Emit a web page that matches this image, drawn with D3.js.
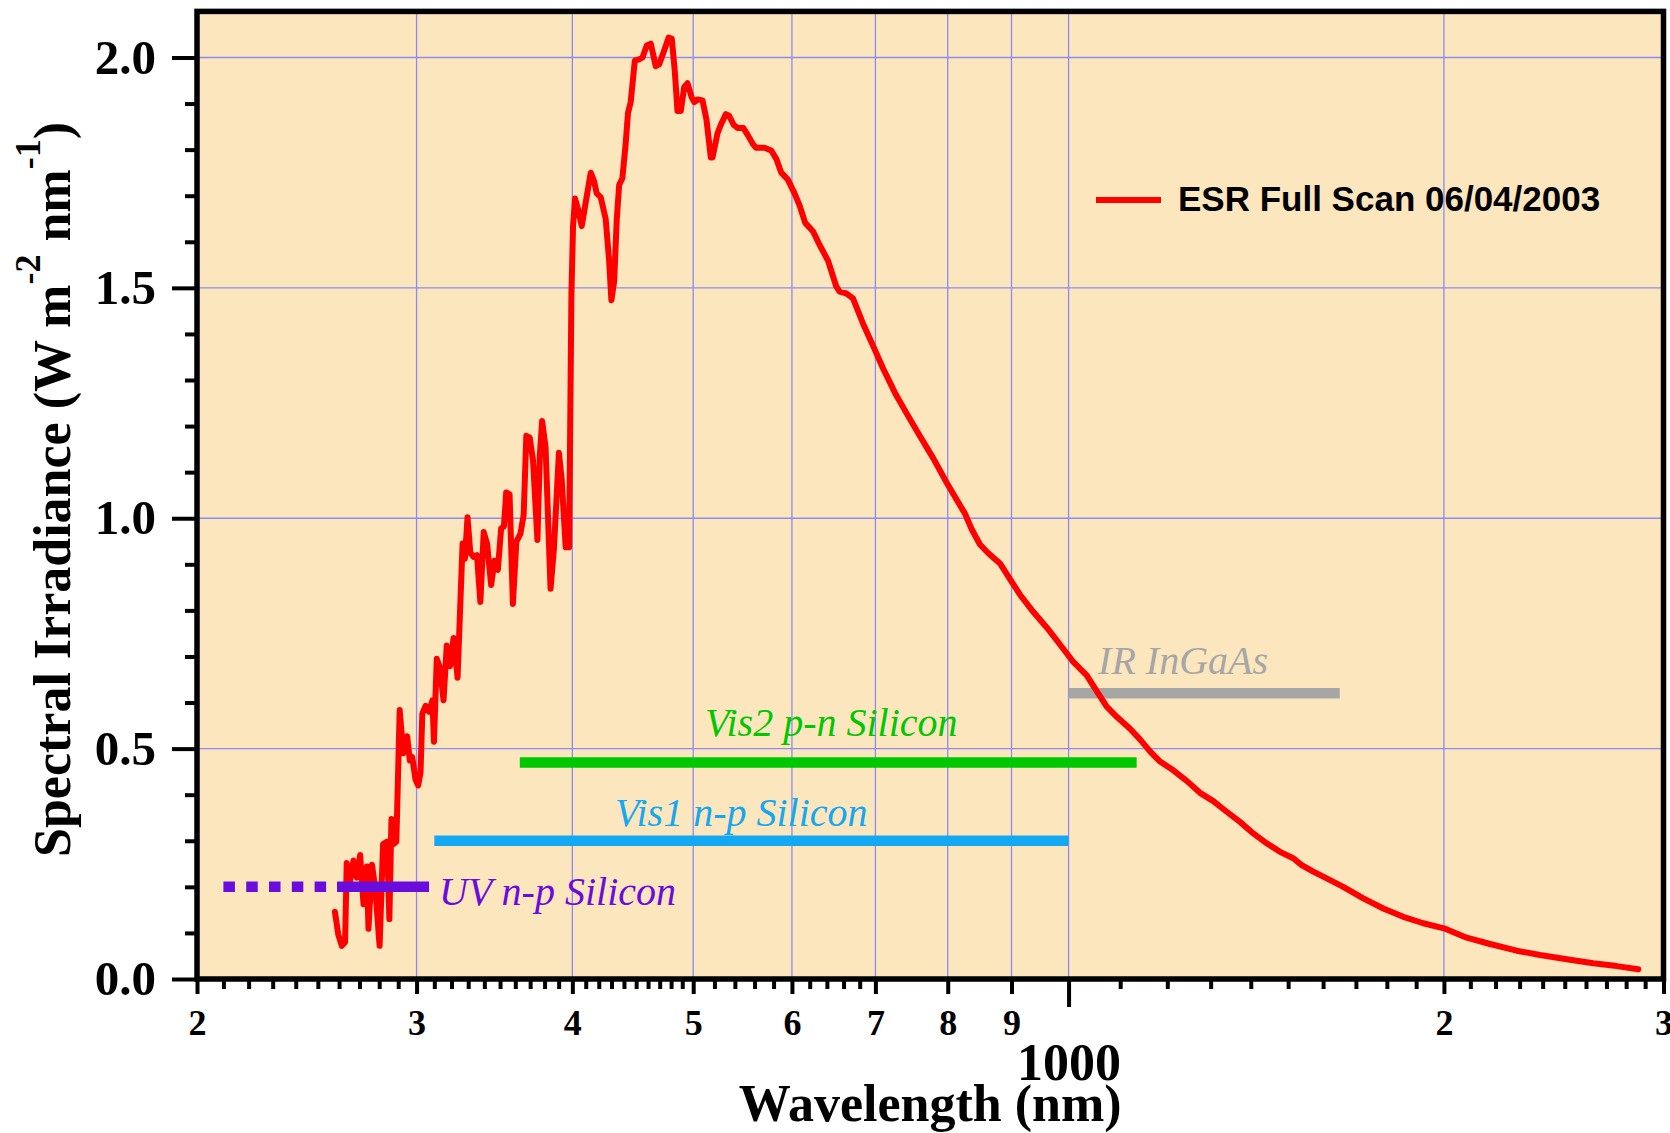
<!DOCTYPE html>
<html>
<head>
<meta charset="utf-8">
<script src="https://cdn.jsdelivr.net/npm/d3@7"></script>
<style>
  html, body { margin: 0; padding: 0; background: #ffffff; }
  svg { display: block; }
</style>
</head>
<body>
<svg id="chart" width="1670" height="1133"></svg>
<script>
// ESR full-scan solar spectral irradiance (W m^-2 nm^-1) vs wavelength (nm)
const wavelengthNm = [
  258.0, 259.6, 261.3, 262.9, 263.7, 265.3, 267.0, 268.7, 270.3, 272.0,
  273.7, 274.5, 276.3, 278.0, 280.2, 282.0, 284.1, 285.3, 286.4, 287.6,
  289.0, 290.8, 292.7, 294.8, 296.3, 297.6, 299.4, 300.9, 302.2, 303.2,
  305.1, 307.0, 308.9, 309.8, 311.4, 313.3, 315.3, 317.2, 319.2, 321.2,
  323.6, 326.6, 328.0, 329.6, 331.3, 333.3, 335.4, 337.5, 339.6, 341.7,
  344.3, 346.4, 348.6, 350.7, 352.5, 354.0, 356.2, 358.4, 360.7, 363.4,
  365.6, 367.4, 369.7, 372.0, 375.0, 376.7, 378.3, 380.7, 384.2, 386.6,
  390.2, 392.2, 395.1, 397.6, 399.3, 400.5, 402.0, 404.2, 407.0, 410.0,
  413.8, 416.4, 418.4, 421.5, 425.4, 428.1, 429.9, 432.1, 434.2, 436.1,
  438.7, 441.4, 443.3, 445.5, 448.9, 452.5, 455.3, 458.9, 462.3, 466.6,
  469.5, 473.3, 477.8, 480.6, 483.3, 485.7, 488.7, 491.8, 494.8, 498.5,
  501.0, 504.0, 508.7, 512.4, 516.5, 518.2, 523.0, 526.2, 531.1, 534.4,
  538.7, 542.7, 548.5, 552.9, 558.0, 561.5, 570.4, 577.5, 582.9, 588.3,
  595.5, 602.9, 608.5, 614.9, 623.7, 631.5, 641.3, 651.2, 655.2, 663.3,
  671.6, 684.5, 697.3, 710.3, 725.8, 741.7, 760.1, 779.0, 798.5, 813.4,
  825.9, 836.2, 849.1, 862.3, 881.1, 897.5, 914.2, 934.2, 960.4, 984.3,
  1008.8, 1034.1, 1053.3, 1073.0, 1093.0, 1120.2, 1141.0, 1162.3, 1184.0, 1213.4,
  1243.8, 1274.7, 1306.4, 1339.1, 1372.4, 1406.5, 1441.8, 1477.6, 1514.3, 1538.0,
  1571.3, 1610.7, 1660.8, 1723.3, 1788.1, 1855.4, 1925.2, 2000.0, 2085.9, 2177.6,
  2287.7, 2388.2, 2508.9, 2635.3, 2751.7, 2863.6
];
const irradiance = [
  0.146, 0.097, 0.072, 0.080, 0.252, 0.211, 0.257, 0.220, 0.269, 0.162,
  0.244, 0.109, 0.248, 0.195, 0.072, 0.293, 0.298, 0.130, 0.347, 0.293,
  0.298, 0.584, 0.490, 0.527, 0.474, 0.482, 0.433, 0.420, 0.449, 0.576,
  0.593, 0.580, 0.605, 0.515, 0.695, 0.675, 0.605, 0.724, 0.679, 0.740,
  0.654, 0.945, 0.912, 1.002, 0.925, 0.916, 0.920, 0.818, 0.970, 0.945,
  0.855, 0.908, 0.888, 0.978, 0.982, 1.056, 1.052, 0.814, 0.949, 0.966,
  1.007, 1.179, 1.175, 1.125, 0.953, 1.138, 1.211, 1.154, 0.847, 0.933,
  1.142, 1.084, 0.937, 0.937, 1.484, 1.634, 1.694, 1.671, 1.634, 1.686,
  1.750, 1.731, 1.705, 1.697, 1.649, 1.559, 1.473, 1.514, 1.649, 1.723,
  1.738, 1.813, 1.880, 1.903, 1.993, 1.996, 2.000, 2.026, 2.030, 1.981,
  1.985, 2.011, 2.043, 2.041, 1.970, 1.884, 1.884, 1.936, 1.944, 1.914,
  1.903, 1.909, 1.907, 1.865, 1.783, 1.783, 1.836, 1.854, 1.877, 1.873,
  1.854, 1.847, 1.847, 1.832, 1.813, 1.804, 1.804, 1.798, 1.780, 1.750,
  1.735, 1.705, 1.679, 1.641, 1.623, 1.593, 1.559, 1.503, 1.492, 1.488,
  1.477, 1.421, 1.373, 1.324, 1.272, 1.227, 1.178, 1.130, 1.077, 1.040,
  1.010, 0.976, 0.943, 0.924, 0.902, 0.868, 0.834, 0.801, 0.763, 0.726,
  0.688, 0.659, 0.625, 0.591, 0.569, 0.543, 0.520, 0.494, 0.472, 0.453,
  0.430, 0.404, 0.386, 0.363, 0.341, 0.316, 0.2945, 0.276, 0.262, 0.247,
  0.233, 0.2185, 0.200, 0.175, 0.153, 0.135, 0.121, 0.110, 0.0897, 0.076,
  0.0614, 0.052, 0.0427, 0.034, 0.028, 0.021
];
const seriesName = "ESR Full Scan 06/04/2003";

// Detector coverage bands (wavelength span and plotted level)
const bandNames   = ["UV n-p Silicon", "Vis1 n-p Silicon", "Vis2 p-n Silicon", "IR InGaAs"];
const bandStartNm = [259, 310, 363, 1000];
const bandEndNm   = [307, 1000, 1134, 1650];
const bandLevel   = [0.20, 0.30, 0.47, 0.62];
// UV detector extension toward shorter wavelengths (drawn dashed)
const uvExtensionNm = [210, 259];
// Annotation anchors for band names (wavelength, level of text baseline)
const bandLabelNm    = [312.7, 432.8, 511.0, 1056.0];
const bandLabelLevel = [0.161, 0.332, 0.528, 0.661];

// Axis ticks
const yMajorTicks = [0.0, 0.5, 1.0, 1.5, 2.0];
const yMinorTicks = [0.1, 0.2, 0.3, 0.4, 0.6, 0.7, 0.8, 0.9, 1.1, 1.2, 1.3, 1.4, 1.6, 1.7, 1.8, 1.9];
const xLabelTicks = [200, 300, 400, 500, 600, 700, 800, 900, 2000, 3000];
const xLabelText  = ["2", "3", "4", "5", "6", "7", "8", "9", "2", "3"];
const xDecadeTick = [1000];
const xMinorTicks = [].concat(
  d3.range(210, 500, 10).filter(v => v % 100 !== 0),
  d3.range(520, 700, 20).filter(v => v % 100 !== 0),
  d3.range(1100, 3000, 100).filter(v => v % 1000 !== 0)
);
const xGridLines = [300, 400, 500, 600, 700, 800, 900, 1000, 2000];

const bandColors = ["#6a0cdc", "#14a8f2", "#00c800", "#a6a6a6"];
const serif = "'Liberation Serif', 'Times New Roman', Times, serif";
const sans = "'Liberation Sans', Arial, Helvetica, sans-serif";

const svg = d3.select("#chart");
const plot = { left: 197, right: 1663.5, top: 11.4, bottom: 979 };

const x = d3.scaleLog().domain([200, 3000]).range([plot.left, plot.right]);
const y = d3.scaleLinear().domain([0, 2.1]).range([plot.bottom, plot.top]);

// Plot background
svg.append("rect")
  .attr("x", plot.left).attr("y", plot.top)
  .attr("width", plot.right - plot.left).attr("height", plot.bottom - plot.top)
  .attr("fill", "#fce6be");

// Grid
const grid = svg.append("g").attr("stroke", "#8a8cf2").attr("stroke-width", 1.3);
grid.selectAll("line.h").data(yMajorTicks.filter(v => v > 0)).join("line")
  .attr("x1", plot.left).attr("x2", plot.right)
  .attr("y1", d => y(d)).attr("y2", d => y(d));
grid.selectAll("line.v").data(xGridLines).join("line")
  .attr("y1", plot.top).attr("y2", plot.bottom)
  .attr("x1", d => x(d)).attr("x2", d => x(d));

// Detector bands drawn beneath the spectrum (all but UV)
const bands = bandNames.map((name, i) => ({
  name, from: bandStartNm[i], to: bandEndNm[i], level: bandLevel[i],
  color: bandColors[i], labelNm: bandLabelNm[i], labelLevel: bandLabelLevel[i]
}));
const bandG = svg.append("g");
bandG.selectAll("line").data(bands.slice(1)).join("line")
  .attr("x1", d => x(d.from)).attr("x2", d => x(d.to))
  .attr("y1", d => y(d.level)).attr("y2", d => y(d.level))
  .attr("stroke", d => d.color).attr("stroke-width", 10.5);

// Spectrum
const spectrum = wavelengthNm.map((w, i) => [w, irradiance[i]]);
svg.append("path")
  .datum(spectrum)
  .attr("fill", "none")
  .attr("stroke", "#ff0000")
  .attr("stroke-width", 6)
  .attr("stroke-linejoin", "round")
  .attr("stroke-linecap", "round")
  .attr("d", d3.line().x(d => x(d[0])).y(d => y(d[1])));

// UV band on top, with dashed extension
const uv = bands[0];
svg.append("line")
  .attr("x1", x(uvExtensionNm[0])).attr("x2", x(uvExtensionNm[1]))
  .attr("y1", y(uv.level)).attr("y2", y(uv.level))
  .attr("stroke", uv.color).attr("stroke-width", 10.5)
  .attr("stroke-dasharray", "11.5 11.3");
svg.append("line")
  .attr("x1", x(uv.from)).attr("x2", x(uv.to))
  .attr("y1", y(uv.level)).attr("y2", y(uv.level))
  .attr("stroke", uv.color).attr("stroke-width", 10.5);

// Band labels
svg.append("g").selectAll("text").data(bands).join("text")
  .attr("x", d => x(d.labelNm)).attr("y", d => y(d.labelLevel))
  .attr("fill", d => d.color)
  .attr("font-family", serif).attr("font-style", "italic")
  .attr("font-size", 40)
  .text(d => d.name);

// Legend
svg.append("line")
  .attr("x1", 1096).attr("x2", 1161).attr("y1", 200).attr("y2", 200)
  .attr("stroke", "#ff0000").attr("stroke-width", 6);
svg.append("text")
  .attr("x", 1178).attr("y", 211)
  .attr("font-family", sans).attr("font-weight", "bold").attr("font-size", 35)
  .attr("fill", "#000").text(seriesName);

// Axes
function styleAxis(g, fontSize) {
  g.select(".domain").remove();
  g.selectAll(".tick line").attr("stroke", "#000").attr("stroke-width", 4);
  g.selectAll(".tick text")
    .attr("font-family", serif).attr("font-weight", "bold")
    .attr("font-size", fontSize).attr("fill", "#000");
}

svg.append("g").attr("transform", `translate(0,${plot.bottom})`)
  .call(d3.axisBottom(x).tickValues(xMinorTicks).tickSize(10).tickFormat(""))
  .call(g => styleAxis(g, 36));
svg.append("g").attr("transform", `translate(0,${plot.bottom})`)
  .call(d3.axisBottom(x).tickValues(xLabelTicks).tickSize(15).tickPadding(15)
    .tickFormat(d => xLabelText[xLabelTicks.indexOf(d)]))
  .call(g => styleAxis(g, 36));
svg.append("g").attr("transform", `translate(0,${plot.bottom})`)
  .call(d3.axisBottom(x).tickValues(xDecadeTick).tickSize(28).tickPadding(36)
    .tickFormat(d3.format("d")))
  .call(g => styleAxis(g, 52));

svg.append("g").attr("transform", `translate(${plot.left},0)`)
  .call(d3.axisLeft(y).tickValues(yMinorTicks).tickSize(12).tickFormat(""))
  .call(g => styleAxis(g, 49));
svg.append("g").attr("transform", `translate(${plot.left},0)`)
  .call(d3.axisLeft(y).tickValues(yMajorTicks).tickSize(25).tickPadding(16)
    .tickFormat(d3.format(".1f")))
  .call(g => styleAxis(g, 49));

// Frame
svg.append("rect")
  .attr("x", plot.left).attr("y", plot.top)
  .attr("width", plot.right - plot.left).attr("height", plot.bottom - plot.top)
  .attr("fill", "none").attr("stroke", "#000").attr("stroke-width", 5.5);

// Axis titles
svg.append("text")
  .attr("x", (plot.left + plot.right) / 2).attr("y", 1121)
  .attr("text-anchor", "middle")
  .attr("font-family", serif).attr("font-weight", "bold").attr("font-size", 52)
  .text("Wavelength (nm)");

const yTitle = svg.append("text")
  .attr("transform", "translate(70,857) rotate(-90)")
  .attr("font-family", serif).attr("font-weight", "bold").attr("font-size", 52);
yTitle.append("tspan").text("Spectral Irradiance (W m");
yTitle.append("tspan").attr("font-size", 36).attr("dy", -30).text("-2");
yTitle.append("tspan").attr("dy", 30).text(" nm");
yTitle.append("tspan").attr("font-size", 36).attr("dy", -30).text("-1");
yTitle.append("tspan").attr("dy", 30).text(")");
</script>
</body>
</html>
